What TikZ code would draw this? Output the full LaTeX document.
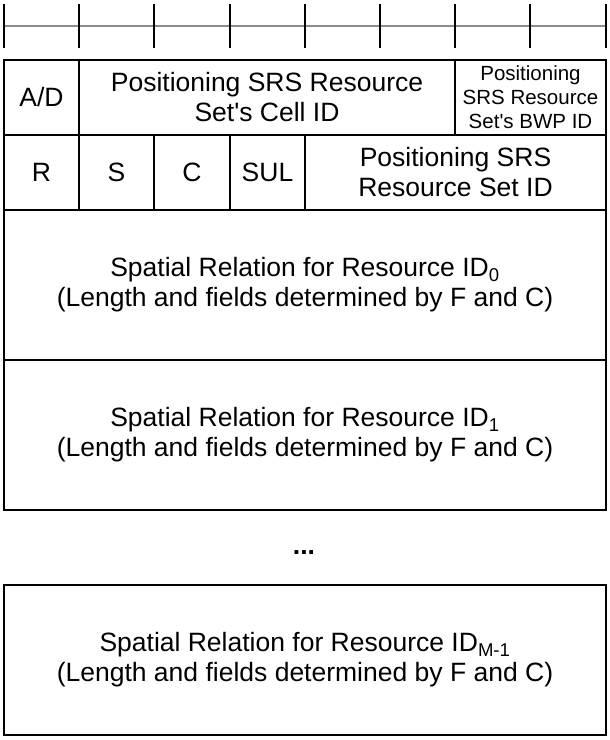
\documentclass[tikz,border=0pt]{standalone}
\usepackage{fontspec}
\setmainfont{Liberation Sans}
\begin{document}
\begin{tikzpicture}[x=1pt,y=-1pt,
  cell/.style={draw=black, line width=1.3pt, inner sep=0pt, align=center,
    font=\fontsize{26.5}{30}\selectfont},
  smallcell/.style={cell, font=\fontsize{20.5}{24}\selectfont},
  tickline/.style={draw=black, line width=1.4pt},
  rulerline/.style={draw=black!45, line width=1.8pt},
  dotsnode/.style={inner sep=0pt, font=\fontsize{26.5}{30}\bfseries}]
\useasboundingbox (0,0) rectangle (610,740);
% ruler
\foreach \x [count=\i] in {4,79,154,230,305,380,455,530,606}{
  \coordinate (t\i) at (\x,26);
}
\draw[rulerline] (t1) -- (t9);
\foreach \x in {4,79,154,230,305,380,455,530,606}{
  \draw[tickline] (\x,4) -- (\x,48);
}
% row 1
\node[cell, minimum width=75pt, minimum height=75pt] (ad) at (41.5,97.5) {A/D};
\node[cell, minimum width=376pt, minimum height=75pt] (cellid) at (267,97.5) {Positioning SRS Resource\\Set\textquotesingle s Cell ID};
\node[smallcell, minimum width=151pt, minimum height=75pt] (bwp) at (530.5,97.5) {Positioning\\SRS Resource\\Set\textquotesingle s BWP ID};
% row 2
\node[cell, minimum width=75pt, minimum height=75pt] (r) at (41.5,172.5) {R};
\node[cell, minimum width=75pt, minimum height=75pt] (s) at (116.5,172.5) {S};
\node[cell, minimum width=76pt, minimum height=75pt] (c) at (192,172.5) {C};
\node[cell, minimum width=75pt, minimum height=75pt] (sul) at (267.5,172.5) {SUL};
\node[cell, minimum width=301pt, minimum height=75pt] (setid) at (455.5,172.5) {Positioning SRS\\Resource Set ID};
% spatial relations
\node[cell, minimum width=602pt, minimum height=150pt] (sr0) at (305,285) {Spatial Relation for Resource ID\textsubscript{0}\\(Length and fields determined by F and C)};
\node[cell, minimum width=602pt, minimum height=150pt] (sr1) at (305,435) {Spatial Relation for Resource ID\textsubscript{1}\\(Length and fields determined by F and C)};
\node[dotsnode] (dots) at (304,553) {...};
\node[cell, minimum width=602pt, minimum height=150pt] (srm) at (305,660) {Spatial Relation for Resource ID\textsubscript{M-1}\\(Length and fields determined by F and C)};
\end{tikzpicture}
\end{document}
